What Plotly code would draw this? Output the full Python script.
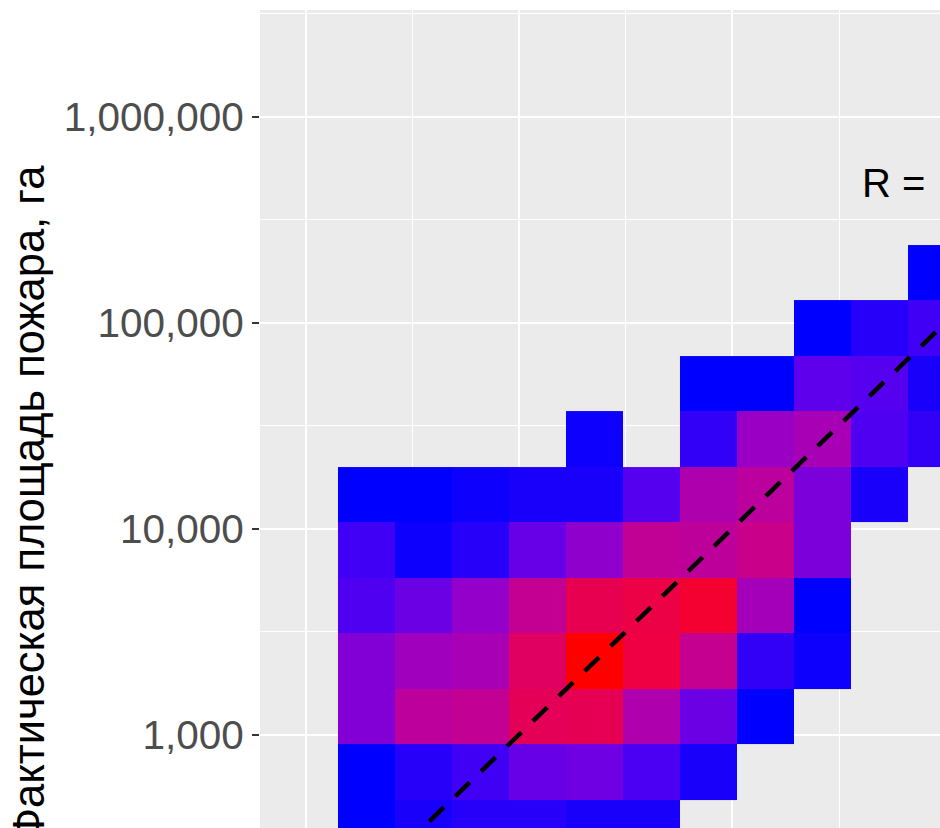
import numpy as np
import plotly.graph_objects as go

# ---- data -------------------------------------------------------------
# bin edges (log10 of area, ha)
x_edges_log = [2.150, 2.417, 2.685, 2.952, 3.220, 3.487, 3.754, 4.022, 4.289, 4.556, 4.824, 5.091]
y_edges_log = [2.414, 2.683, 2.952, 3.222, 3.491, 3.760, 4.030, 4.299, 4.568, 4.837, 5.107, 5.376]

# counts per bin, rows from the lowest y-bin upwards; None = empty bin
counts = [
    [1, 3, 4, 4, 3, 3, None, None, None, None, None],
    [1, 4, 6, 13, 15, 7, 3, None, None, None, None],
    [21, 51, 55, 87, 89, 42, 14, 1, None, None, None],
    [21, 34, 38, 82, 121, 98, 57, 5, 2, None, None],
    [8, 14, 28, 56, 91, 96, 106, 36, 1, None, None],
    [6, 2, 4, 13, 26, 54, 52, 60, 19, None, None],
    [1, 1, 2, 3, 3, 9, 42, 50, 19, 3, None],
    [None, None, None, None, 2, None, 5, 31, 38, 8, 5],
    [None, None, None, None, None, None, 1, 1, 11, 9, 3],
    [None, None, None, None, None, None, None, None, 1, 4, 6],
    [None, None, None, None, None, None, None, None, None, None, 1],
]

y_tick_vals = [1e3, 1e4, 1e5, 1e6]
y_tick_text = ["1,000", "10,000", "100,000", "1,000,000"]
y_title = "Фактическая площадь пожара, га"
r_label = "R ="


# ---- blue -> red gradient interpolated in CIE Lab ---------------------
def _srgb_to_lin(c):
    c = np.asarray(c, float) / 255.0
    return np.where(c <= 0.04045, c / 12.92, ((c + 0.055) / 1.055) ** 2.4)


def _lin_to_srgb(c):
    c = np.clip(c, 0, 1)
    v = np.where(c <= 0.0031308, 12.92 * c, 1.055 * c ** (1 / 2.4) - 0.055)
    return np.clip(np.round(v * 255), 0, 255).astype(int)


M = np.array([[0.4124, 0.3576, 0.1805], [0.2126, 0.7152, 0.0722], [0.0193, 0.1192, 0.9505]])
WHITE = np.array([0.95047, 1.0, 1.08883])


def rgb_to_lab(rgb):
    xyz = M @ _srgb_to_lin(rgb) / WHITE
    f = np.where(xyz > 0.008856, np.cbrt(xyz), 7.787 * xyz + 16 / 116)
    return np.array([116 * f[1] - 16, 500 * (f[0] - f[1]), 200 * (f[1] - f[2])])


def lab_to_rgb(lab):
    fy = (lab[0] + 16) / 116
    f = np.array([fy + lab[1] / 500, fy, fy - lab[2] / 200])
    xyz = np.where(f ** 3 > 0.008856, f ** 3, (f - 16 / 116) / 7.787) * WHITE
    return _lin_to_srgb(np.linalg.solve(M, xyz))


lab_lo, lab_hi = rgb_to_lab([0, 0, 255]), rgb_to_lab([255, 0, 0])
colorscale = []
for t in np.linspace(0, 1, 21):
    r, g, b = lab_to_rgb(lab_lo + (lab_hi - lab_lo) * t)
    colorscale.append([float(t), f"rgb({r},{g},{b})"])

# ---- figure -----------------------------------------------------------
x_edges = [10 ** v for v in x_edges_log]
y_edges = [10 ** v for v in y_edges_log]
vals = [c for row in counts for c in row if c is not None]

fig = go.Figure()
fig.add_trace(go.Heatmap(
    x=x_edges, y=y_edges, z=counts,
    colorscale=colorscale, zmin=min(vals), zmax=max(vals),
    showscale=False, hoverinfo="skip",
))

# 1:1 reference line
fig.add_trace(go.Scatter(
    x=[10, 1e7], y=[10, 1e7], mode="lines",
    line=dict(color="black", width=4.5, dash="20px,16px"),
    hoverinfo="skip", showlegend=False,
))

FONT = "Liberation Sans, Arial, sans-serif"

fig.update_layout(
    template="none",
    width=940, height=828,
    margin=dict(l=260, r=0, t=10, b=0, pad=0),
    paper_bgcolor="white",
    plot_bgcolor="#EBEBEB",
    showlegend=False,
    font=dict(family=FONT),
    xaxis=dict(
        type="log", range=[1.7842, 4.9737],
        showticklabels=False, ticks="", zeroline=False, showline=False,
        tickvals=[1e2, 1e3, 1e4, 1e5],
        showgrid=True, gridcolor="white", gridwidth=2.2,
        minor=dict(tickvals=[10 ** 1.5, 10 ** 2.5, 10 ** 3.5, 10 ** 4.5],
                   showgrid=True, gridcolor="white", gridwidth=1.4, ticks=""),
        automargin=False,
    ),
    yaxis=dict(
        type="log", range=[2.5461, 6.517],
        tickvals=y_tick_vals, ticktext=y_tick_text,
        tickfont=dict(size=40.5, color="#4D4D4D", family=FONT),
        ticks="outside", ticklen=7, tickwidth=2, tickcolor="#333333",
        ticklabelstandoff=0,
        zeroline=False, showline=False,
        showgrid=True, gridcolor="white", gridwidth=2.2,
        minor=dict(tickvals=[10 ** 2.5, 10 ** 3.5, 10 ** 4.5, 10 ** 5.5, 10 ** 6.5],
                   showgrid=True, gridcolor="white", gridwidth=1.4, ticks=""),
        automargin=False,
    ),
    annotations=[
        dict(text=y_title, textangle=-90, xref="paper", yref="paper",
             x=(29 - 260) / 680, y=1 - (163 - 10) / 818,
             xanchor="center", yanchor="top", showarrow=False,
             font=dict(size=43.5, color="black", family=FONT)),
        dict(text=r_label, xref="paper", yref="paper",
             x=(860 - 260) / 680, y=1 - (183 - 10) / 818,
             xanchor="left", yanchor="middle", showarrow=False,
             font=dict(size=40, color="black", family=FONT)),
    ],
)

fig.write_html("out.html")
